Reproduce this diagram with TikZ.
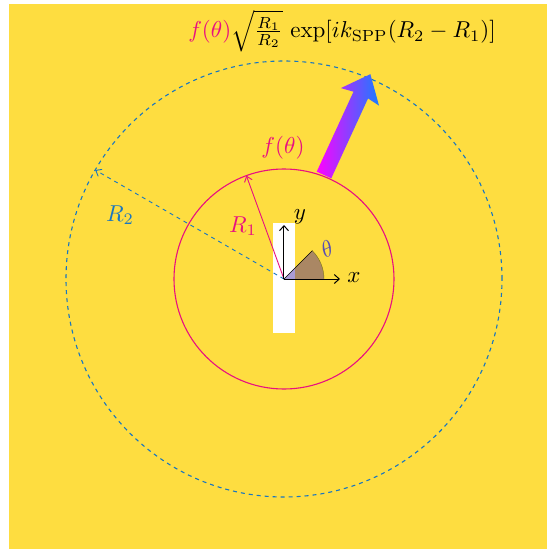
\documentclass[tikz,border=0pt]{standalone}
\usepackage{amsmath}
\usetikzlibrary{arrows.meta}
\definecolor{bgyellow}{RGB}{254,221,64}
\definecolor{fpink}{RGB}{232,16,128}
\definecolor{rblue}{RGB}{24,118,192}
\definecolor{arrblue}{RGB}{25,125,255}
\definecolor{wedgefill}{RGB}{44,6,154}
\definecolor{thetacol}{RGB}{88,78,180}
\tikzset{
  lbl/.style={inner sep=0pt, scale=2.3},
  radarrow/.style={-{Straight Barb[length=5pt,width=8pt]}, line width=0.9pt},
  axarrow/.style={-{Straight Barb[length=5pt,width=9pt]}, line width=1pt, black},
}
\begin{document}
\begin{tikzpicture}[x=1pt,y=1pt]
\useasboundingbox (-284,279) rectangle (263,-270);
\fill[bgyellow] (-275,275) rectangle (263,-270);
\coordinate (O) at (0,0);
% white slit
\fill[white] (-11,56) rectangle (11,-54);
% circles
\draw[fpink, line width=1.1pt] (O) circle[radius=110];
\draw[rblue, line width=1.1pt, dash pattern=on 4pt off 4pt] (O) circle[radius=218];
% radii
\coordinate (P1) at (110:110);
\coordinate (P2) at (150:218);
\draw[radarrow, fpink] (O) -- (P1);
\draw[radarrow, rblue, dash pattern=on 4pt off 4pt] (O) -- (P2);
% theta wedge
\coordinate (W0) at (40,0);
\coordinate (W1) at (45:40);
\fill[wedgefill, fill opacity=0.4] (O) -- (W0) arc[start angle=0, end angle=45, radius=40] -- cycle;
\draw[olive!80!black, line width=0.4pt] (W0) arc[start angle=0, end angle=45, radius=40];
\draw[black, line width=0.7pt] (O) -- (W1);
% axes
\coordinate (XE) at (56,0);
\coordinate (YE) at (0,54);
\draw[axarrow] (O) -- (XE);
\draw[axarrow] (O) -- (YE);
\node[lbl] (xl) at (70,1) {$x$};
\node[lbl] (yl) at (16,62) {$y$};
\node[lbl, text=thetacol, rotate=25] (th) at (43,30) {$\theta$};
% labels
\node[lbl, text=fpink] (r1) at (-41,53) {$R_1$};
\node[lbl, text=rblue] (r2) at (-164,64) {$R_2$};
\node[lbl, text=fpink] (ft) at (-1,131) {$f(\theta)$};
\node[lbl] (formula) at (58,248) {$\textcolor{fpink}{f(\theta)}\sqrt{\frac{R_1}{R_2}}\,\exp[ik_{\mathrm{SPP}}(R_2-R_1)]$};
% gradient arrow
\begin{scope}[shift={(40,104)}, rotate=65.3]
\shade[left color=magenta, right color=arrblue] (0,-8) -- (88,-8) -- (86,-21) -- (111,0) -- (86,21) -- (88,8) -- (0,8) -- cycle;
\end{scope}
\end{tikzpicture}
\end{document}
